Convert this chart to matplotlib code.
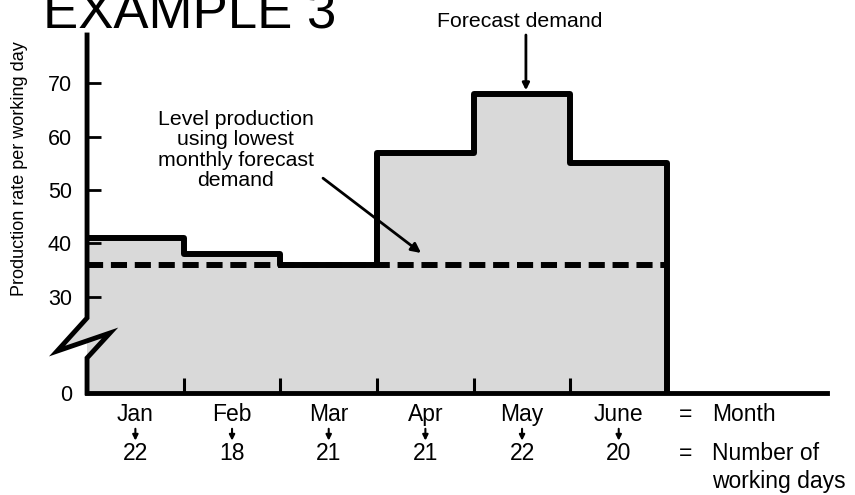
import matplotlib.pyplot as plt
import numpy as np

plt.rcParams['font.family'] = ['Liberation Sans', 'DejaVu Sans']

# Datos
months = ['Jan', 'Feb', 'Mar', 'Apr', 'May', 'June']
working_days = [22, 18, 21, 21, 22, 20]
demand_per_day = [41, 38, 36, 57, 68, 55]
level_rate = 36
yticks = [0, 30, 40, 50, 60, 70]


# eje Y con corte entre 0 y 30
def fwd(v):
    v = np.asarray(v, dtype=float)
    return np.where(v >= 30, v - 12, v * 0.6)


def inv(d):
    d = np.asarray(d, dtype=float)
    return np.where(d >= 18, d + 12, d / 0.6)


fig = plt.figure(figsize=(8.55, 4.95), dpi=100)
ax = fig.add_axes([0.1018, 0.2061, 0.8655, 0.7232])
ax.set_yscale('function', functions=(fwd, inv))
ax.set_xlim(0, 7.655)
ax.set_ylim(0, 79)

edges = np.arange(len(months) + 1)
ax.stairs(demand_per_day, edges, baseline=0, fill=True, color='#d9d9d9', lw=0, zorder=1)

x_line = np.repeat(edges, 2)[1:]
y_line = np.append(np.repeat(demand_per_day, 2), 0)
ax.plot(x_line, y_line, color='black', lw=4.3, solid_joinstyle='round', zorder=3)

ax.plot([edges[0], edges[-1]], [level_rate, level_rate], color='black', lw=4.3,
        ls=(0, (2.7, 1.3)), zorder=4)

# ejes
for s in ['top', 'right', 'left']:
    ax.spines[s].set_visible(False)
ax.spines['bottom'].set_linewidth(3.5)

zig_x = [0, 0, -0.0405, 0.031, 0.0, 0]
zig_y = [1, 0.2095, 0.117, 0.1676, 0.0978, 0]
ax.fill(zig_x[1:4], zig_y[1:4], color='#d9d9d9', transform=ax.transAxes, clip_on=False, zorder=1)
ax.plot(zig_x, zig_y, color='black', lw=3.5, transform=ax.transAxes, clip_on=False,
        solid_joinstyle='miter', zorder=5)

ax.set_yticks(yticks)
ax.set_yticklabels([str(t) for t in yticks])
ax.minorticks_off()
ax.tick_params(axis='y', direction='in', length=10, width=2, pad=11, labelsize=15.5)
ax.set_xticks(edges[1:-1])
ax.set_xticklabels([])
ax.tick_params(axis='x', direction='in', length=11, width=2.2)

# etiquetas de meses y dias
tr = ax.get_xaxis_transform()
fs = 16.5
for i, (m, d) in enumerate(zip(months, working_days)):
    xc = i + 0.5
    ax.text(xc, -0.0615, m, transform=tr, ha='center', va='center', fontsize=fs)
    ax.annotate('', xy=(xc, -0.133), xytext=(xc, -0.100), xycoords=tr, textcoords=tr,
                arrowprops=dict(arrowstyle='-|>', lw=1.5, color='black',
                                mutation_scale=8, shrinkA=0, shrinkB=0),
                annotation_clip=False)
    ax.text(xc, -0.170, str(d), transform=tr, ha='center', va='center', fontsize=fs)

ax.text(6.196, -0.0615, '=', transform=tr, ha='center', va='center', fontsize=fs)
ax.text(6.465, -0.0615, 'Month', transform=tr, ha='left', va='center', fontsize=fs)
ax.text(6.196, -0.170, '=', transform=tr, ha='center', va='center', fontsize=fs)
ax.text(6.465, -0.170, 'Number of', transform=tr, ha='left', va='center', fontsize=fs)
ax.text(6.465, -0.246, 'working days', transform=tr, ha='left', va='center', fontsize=fs)

# anotaciones
ax.text(1.54, 57.5, 'Level production\nusing lowest\nmonthly forecast\ndemand',
        ha='center', va='center', fontsize=15.3, linespacing=1.1)
ax.annotate('', xy=(3.455, 38.2), xytext=(2.441, 52.2),
            arrowprops=dict(arrowstyle='-|>', lw=2, color='black', mutation_scale=14,
                            shrinkA=0, shrinkB=0))

ax.text(4.479, 81.6, 'Forecast demand', ha='center', va='center', fontsize=15.3, clip_on=False)
ax.annotate('', xy=(4.54, demand_per_day[4]), xytext=(4.54, 79),
            arrowprops=dict(arrowstyle='-|>', lw=2, color='black', mutation_scale=10,
                            shrinkA=0, shrinkB=2.5),
            annotation_clip=False)

fig.text(0.0503, 0.9434, 'EXAMPLE 3', fontsize=38, va='baseline', ha='left')
fig.text(20 / 855, 0.66, 'Production rate per working day', rotation=90,
         ha='center', va='center', fontsize=13)

fig.savefig('out.png', dpi=100)
